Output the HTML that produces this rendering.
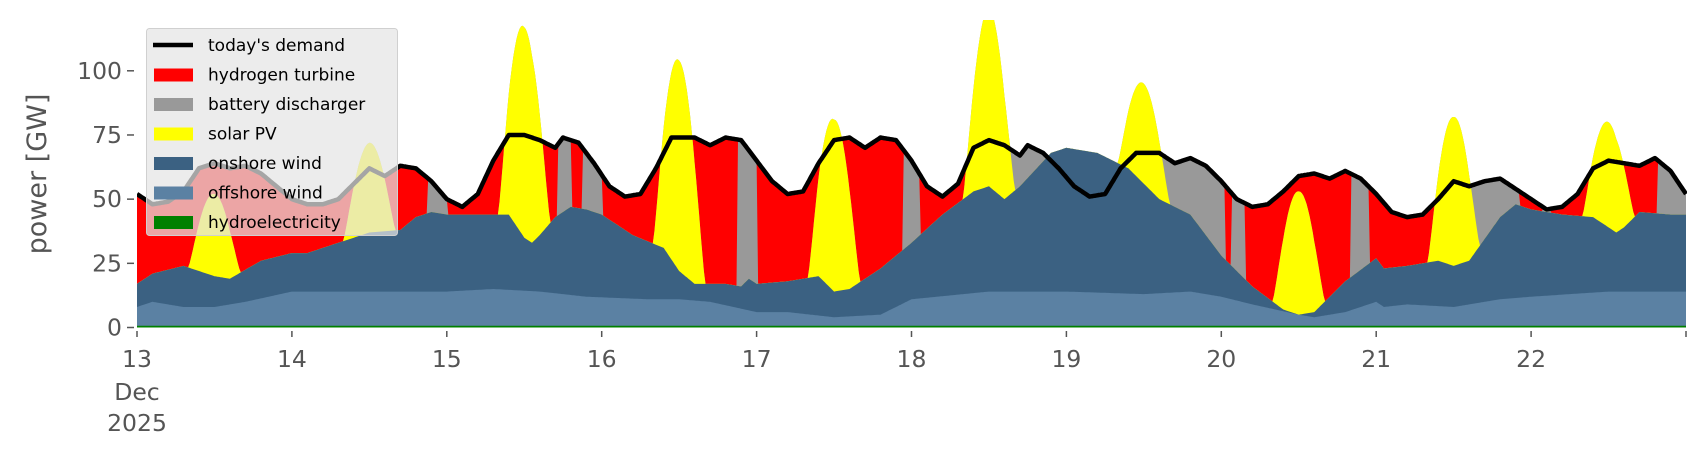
<!DOCTYPE html>
<html><head><meta charset="utf-8"><style>
html,body{margin:0;padding:0;background:#fff;}
svg{display:block;font-family:"DejaVu Sans","Liberation Sans",sans-serif;}
</style></head><body>
<svg id="s" width="1706" height="460" xmlns="http://www.w3.org/2000/svg">
<defs><clipPath id="cp"><rect x="137" y="20" width="1550" height="310"/></clipPath></defs>
<g id="areas" clip-path="url(#cp)"></g>
<g id="axes" fill="#555" font-size="23.5"></g>
<text transform="translate(46,174) rotate(-90)" text-anchor="middle" fill="#555" font-size="27">power [GW]</text>
<g id="leg"></g>
</svg>
<script>
const X0=137,DX=154.9,Y0=327.5,KY=2.567;
const xm=t=>X0+(t-13)*DX, ym=v=>Y0-v*KY;
function interp(k,t){for(let i=0;i<k.length-1;i++){if(t<=k[i+1][0]){const a=k[i],b=k[i+1];const f=(t-a[0])/(b[0]-a[0]);return a[1]+f*(b[1]-a[1]);}}return k[k.length-1][1];}
const P=s=>{const a=s.trim().split(/\s+/).map(Number);const r=[];for(let i=0;i<a.length;i+=2)r.push([a[i],a[i+1]]);return r;};
const D=P(`13 52 13.1 48 13.2 49 13.3 53 13.4 62 13.5 64 13.6 62 13.7 63 13.8 60 13.9 55 14 50 14.1 48 14.2 48 14.3 50 14.4 56 14.5 62 14.6 59 14.7 63 14.8 62 14.9 57 15 50 15.1 47 15.2 52 15.3 65 15.4 75 15.5 75 15.6 73 15.7 70 15.75 74 15.85 72 15.95 64 16.05 55 16.15 51 16.25 52 16.35 62 16.45 74 16.6 74 16.7 71 16.8 74 16.9 73 17 65 17.1 57 17.2 52 17.3 53 17.4 64 17.5 73 17.6 74 17.7 70 17.8 74 17.9 73 18 65 18.1 55 18.2 51 18.3 56 18.4 70 18.5 73 18.6 71 18.7 67 18.75 71 18.85 68 18.95 62 19.05 55 19.15 51 19.25 52 19.35 62 19.45 68 19.6 68 19.7 64 19.8 66 19.9 63 20 57 20.1 50 20.2 47 20.3 48 20.4 53 20.5 59 20.6 60 20.7 58 20.8 61 20.9 58 21 52 21.1 45 21.2 43 21.3 44 21.4 50 21.5 57 21.6 55 21.7 57 21.8 58 21.9 54 22 50 22.1 46 22.2 47 22.3 52 22.4 62 22.5 65 22.6 64 22.7 63 22.8 66 22.9 61 23 52`);
const ON=P(`13 17 13.1 21 13.3 24 13.5 20 13.6 19 13.8 26 14 29 14.1 29 14.3 33 14.5 37 14.7 38 14.8 43 14.9 45 15 44 15.2 44 15.4 44 15.5 35 15.55 33 15.6 36 15.7 43 15.8 47 15.9 46 16 44 16.2 36 16.4 31 16.5 22 16.6 17 16.8 17 16.9 16 16.95 19 17 17 17.2 18 17.4 20 17.5 14 17.6 15 17.8 23 18 33 18.2 44 18.4 53 18.5 55 18.6 50 18.7 55 18.9 68 19 70 19.2 68 19.4 62 19.6 50 19.8 44 20 28 20.2 16 20.4 7 20.5 5 20.6 6 20.8 18 21 27 21.05 23 21.2 24 21.4 26 21.5 24 21.6 26 21.8 43 21.9 48 22 46 22.2 44 22.4 43 22.5 39 22.55 37 22.6 39 22.7 45 22.9 44 23 44`);
const OFF=P(`13 8 13.1 10 13.3 8 13.5 8 13.7 10 14 14 14.5 14 15 14 15.3 15 15.6 14 15.9 12 16.3 11 16.5 11 16.7 10 17 6 17.2 6 17.5 4 17.8 5 18 11 18.5 14 19 14 19.5 13 19.8 14 20 12 20.2 9 20.5 5 20.6 4 20.8 6 21 10 21.05 8 21.2 9 21.5 8 21.8 11 22 12 22.5 14 23 14`);
const peaks={13:52,14:72,15:117,16:104,17:81,18:125,19:95,20:53,21:82,22:80};
const gray=[[14.88,15.0],[15.72,15.8],[15.88,16.0],[16.88,17.0],[17.95,18.05],[18.6,18.92],[19.6,20.02],[20.07,20.15],[20.84,20.95],[21.6,21.92],[22.08,22.12],[22.82,23.01]];
const T=[];for(let t=13;t<=23.0001;t+=0.01)T.push(+t.toFixed(3));
const on=T.map(t=>interp(ON,t)), off=T.map(t=>interp(OFF,t)), dm=T.map(t=>interp(D,t));
const sol=T.map((t,i)=>{const d=Math.floor(t);const p=peaks[d];if(!p)return on[i];const base=interp(ON,d+0.5);const u=(t-d-0.5)/0.17;const s=Math.abs(u)<1?Math.pow(1-u*u,1.3)*(p-base):0;return on[i]+s;});
const bat=T.map((t,i)=>gray.some(g=>t>=g[0]&&t<=g[1])?Math.max(dm[i],sol[i]):sol[i]);
function area(arr,fill){let d=`M${xm(13)},${Y0}`;T.forEach((t,i)=>d+=`L${xm(t).toFixed(1)},${ym(arr[i]).toFixed(1)}`);d+=`L${xm(23)},${Y0}Z`;return `<path d="${d}" fill="${fill}"/>`;}
let h='';
h+=area(dm,'#ff0000');h+=area(bat,'#999999');h+=area(sol,'#ffff00');h+=area(on,'#3b6182');h+=area(off,'#5b81a3');h+=area(T.map(()=>0.7),'#008000');
let dl='';T.forEach((t,i)=>dl+=(i?'L':'M')+xm(t).toFixed(1)+','+ym(dm[i]).toFixed(1));
h+=`<path d="${dl}" fill="none" stroke="#000" stroke-width="4.5" stroke-linejoin="round"/>`;
document.getElementById('areas').innerHTML=h;
let a='';
[0,25,50,75,100].forEach(v=>{const y=ym(v);a+=`<line x1="127" x2="134" y1="${y}" y2="${y}" stroke="#555" stroke-width="1.5"/><text x="122" y="${y+8}" text-anchor="end">${v}</text>`;});
for(let d=13;d<=23;d++){const x=xm(d);a+=`<line x1="${x}" x2="${x}" y1="331" y2="337" stroke="#555" stroke-width="1.5"/>`;if(d<23)a+=`<text x="${x}" y="367" text-anchor="middle">${d}</text>`;}
a+=`<text x="${xm(13)}" y="400" text-anchor="middle">Dec</text><text x="${xm(13)}" y="431" text-anchor="middle">2025</text>`;
document.getElementById('axes').innerHTML=a;
const L=[['line','#000',"today's demand"],['r','#ff0000','hydrogen turbine'],['r','#999999','battery discharger'],['r','#ffff00','solar PV'],['r','#3b6182','onshore wind'],['r','#5b81a3','offshore wind'],['r','#008000','hydroelectricity']];
let g=`<rect x="146.5" y="28.5" width="251" height="207" rx="3" fill="#e5e5e5" fill-opacity="0.72" stroke="#d0d0d0"/>`;
L.forEach((l,i)=>{const y=45+i*29.5;if(l[0]=='line')g+=`<line x1="153" x2="193" y1="${y}" y2="${y}" stroke="#000" stroke-width="4.5"/>`;else g+=`<rect x="154" y="${y-6}" width="39" height="13" fill="${l[1]}"/>`;g+=`<text x="208" y="${y+6}" font-size="17" fill="#000">${l[2]}</text>`;});
document.getElementById('leg').innerHTML=g;
</script>
</body></html>
